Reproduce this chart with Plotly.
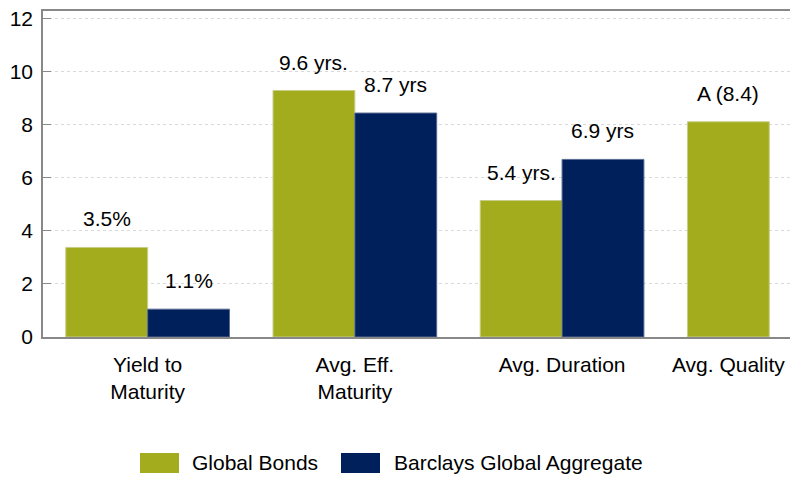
import plotly.graph_objects as go

categories = ["Yield to<br>Maturity", "Avg. Eff.<br>Maturity", "Avg. Duration", "Avg. Quality"]
global_bonds = [3.38, 9.3, 5.15, 8.12]
barclays = [1.05, 8.45, 6.7, None]
global_labels = ["3.5%", "9.6 yrs.", "5.4 yrs.", "A (8.4)"]
barclays_labels = ["1.1%", "8.7 yrs", "6.9 yrs", ""]
series_names = ["Global Bonds", "Barclays Global Aggregate"]

green = "#A2AC1C"
navy = "#00205B"
font_family = "Liberation Sans, Arial, sans-serif"

W, H = 790, 479
L, R, T, B = 43, 0, 11, 142

x = list(range(len(categories)))
bar_w = 0.395

fig = go.Figure()
fig.add_trace(go.Bar(x=x, y=global_bonds, name=series_names[0], marker_color=green,
                     marker_line=dict(color="#c8cd8a", width=1), hoverinfo="skip"))
fig.add_trace(go.Bar(x=x, y=barclays, name=series_names[1], marker_color=navy,
                     marker_line=dict(color="#5a6a90", width=1), hoverinfo="skip"))

# value labels above the bars
for i in x:
    fig.add_annotation(x=i - bar_w / 2, y=global_bonds[i], text=global_labels[i],
                       showarrow=False, yanchor="bottom", yshift=15,
                       font=dict(size=21, color="black"))
    if barclays[i] is not None:
        fig.add_annotation(x=i + bar_w / 2, y=barclays[i], text=barclays_labels[i],
                           showarrow=False, yanchor="bottom", yshift=15,
                           font=dict(size=21, color="black"))

# legend drawn by hand so the swatches are wide like the original
def px_x(p):
    return (p - L) / (W - L - R)

def px_y(p):
    return 1 - (p - T) / (H - T - B)

legend_items = [(series_names[0], green, 140, 190), (series_names[1], navy, 341, 392)]
for name, col, sw_x, txt_x in legend_items:
    fig.add_shape(type="rect", xref="paper", yref="paper",
                  x0=px_x(sw_x), x1=px_x(sw_x + 39), y0=px_y(473), y1=px_y(453),
                  fillcolor=col, line=dict(color=col, width=0))
    fig.add_annotation(xref="paper", yref="paper", x=px_x(txt_x), y=px_y(462),
                       text=name, showarrow=False, xanchor="left", yanchor="middle",
                       font=dict(size=21, color="black"))

# last category only has one bar, its label sits under that bar
tickvals = x[:-1] + [x[-1] - bar_w / 2]

fig.update_layout(
    width=W, height=H,
    margin=dict(l=L, r=R, t=T, b=B),
    paper_bgcolor="white", plot_bgcolor="white",
    font=dict(family=font_family, size=21, color="black"),
    barmode="group", bargap=0.21, bargroupgap=0,
    showlegend=False,
    xaxis=dict(range=[-0.505, 3.1], tickvals=tickvals, ticktext=categories,
               showgrid=False, showline=True, linecolor="#888888", linewidth=1.5,
               mirror=True, ticks="", ticklabelstandoff=8, zeroline=False,
               ticklabeloverflow="allow", tickfont=dict(size=21)),
    yaxis=dict(range=[0, 12.3], tickvals=[0, 2, 4, 6, 8, 10, 12],
               showgrid=True, gridcolor="#d9d9d9", griddash="dot", gridwidth=1,
               showline=True, linecolor="#888888", linewidth=1.5,
               ticks="inside", ticklen=8, tickcolor="#888888",
               ticklabelstandoff=4, zeroline=False, ticklabeloverflow="allow",
               tickfont=dict(size=21)),
)

# drop the default page margin so the 790x479 figure fills the window
fig.write_html("out.html", config={"displayModeBar": False},
               post_script="document.body.style.margin='0';document.body.style.overflow='hidden';")
